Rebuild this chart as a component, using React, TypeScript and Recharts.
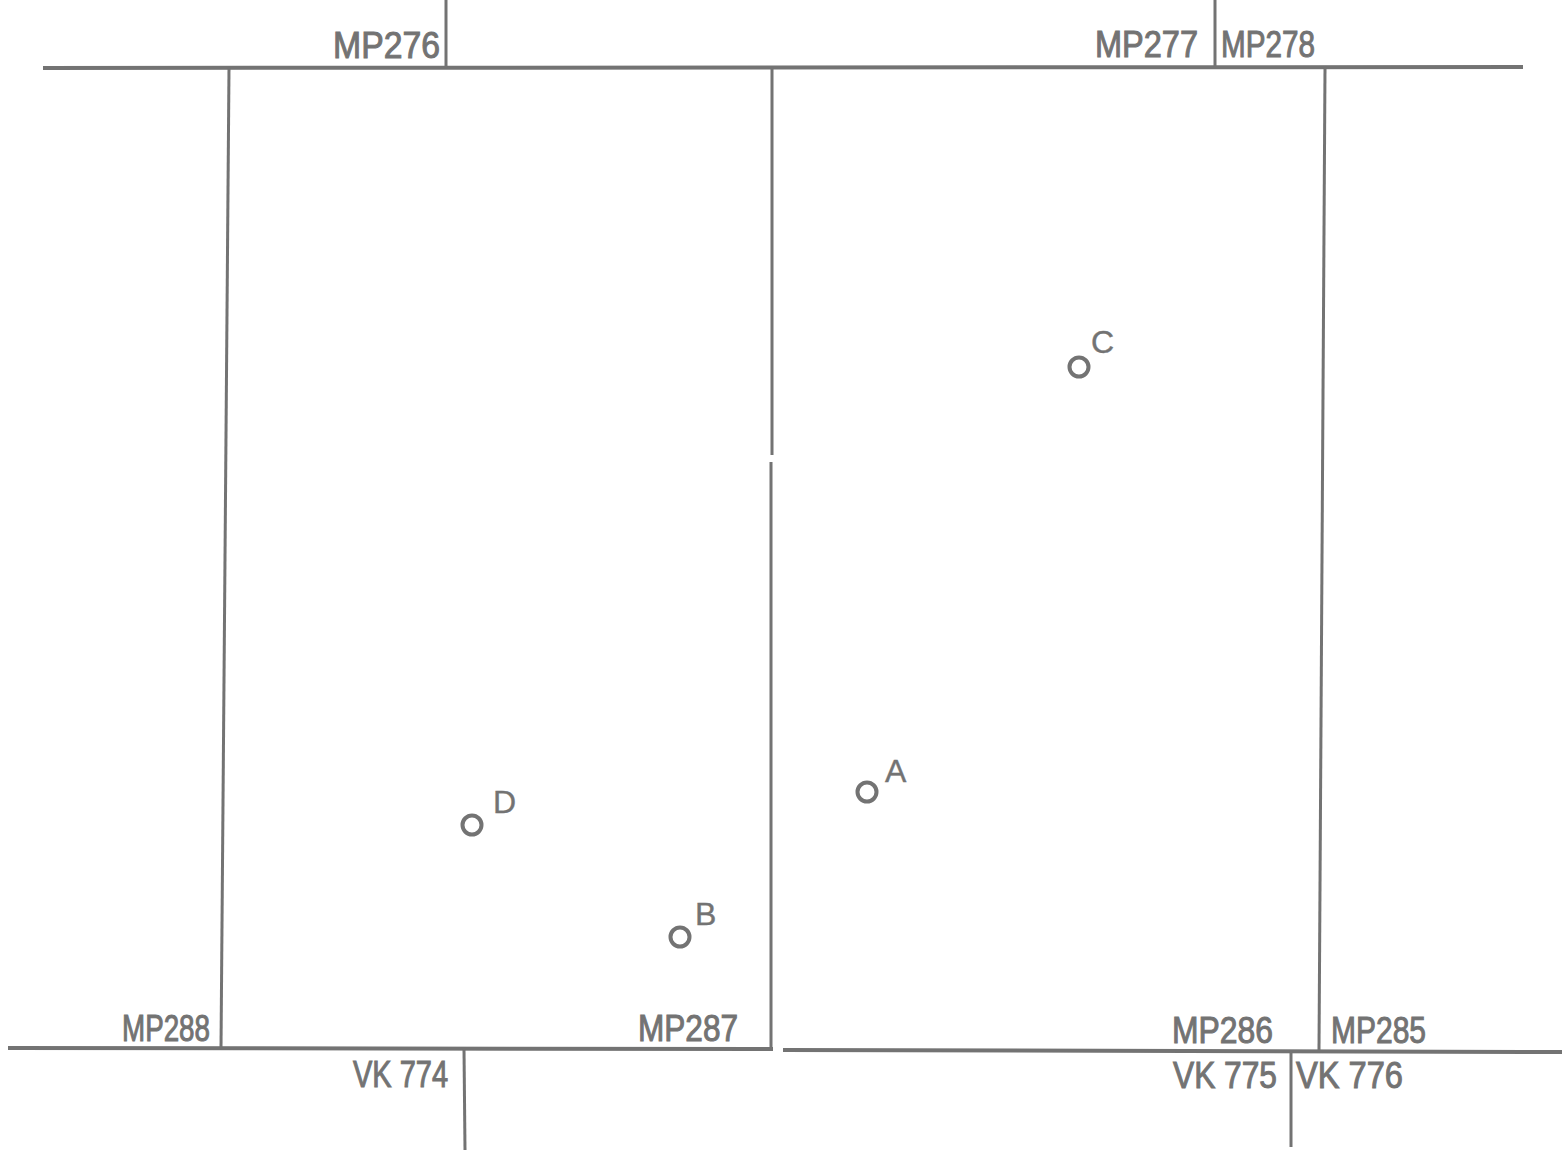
import React from "react";
import { ScatterChart, Scatter, XAxis, YAxis, ReferenceLine } from "recharts";

// Map coordinates (x to the right, y downward), in sheet units
const roadSegments = [
  { id: "top", from: [43, 68], to: [1523, 67] },
  { id: "bottomLeft", from: [8, 1048], to: [773, 1049] },
  { id: "bottomRight", from: [783, 1050], to: [1562, 1052] },
  { id: "v1", from: [229, 68], to: [221, 1048] },
  { id: "v2a", from: [772, 68], to: [772, 455] },
  { id: "v2b", from: [771, 462], to: [771, 1049] },
  { id: "v3", from: [1325, 68], to: [1319, 1050] },
  { id: "t276", from: [446, 0], to: [446, 68] },
  { id: "t278", from: [1215, 0], to: [1215, 67] },
  { id: "b774", from: [464, 1049], to: [465, 1150] },
  { id: "b775", from: [1291, 1051], to: [1291, 1147] },
];

const gridLabels = [
  { text: "MP276", x: 333, y: 58 },
  { text: "MP277", x: 1095, y: 57 },
  { text: "MP278", x: 1221, y: 57 },
  { text: "MP288", x: 122, y: 1041 },
  { text: "MP287", x: 638, y: 1041 },
  { text: "MP286", x: 1172, y: 1043 },
  { text: "MP285", x: 1331, y: 1043 },
  { text: "VK 774", x: 353, y: 1087 },
  { text: "VK 775", x: 1173, y: 1088 },
  { text: "VK 776", x: 1296, y: 1088 },
];

const sites = [
  { name: "A", x: 867, y: 792 },
  { name: "B", x: 680, y: 937 },
  { name: "C", x: 1079, y: 367 },
  { name: "D", x: 472, y: 825 },
];

// styling: rendered text widths and letter nudges
const labelWidth: Record<string, number> = {
  MP276: 107, MP277: 103, MP278: 94, MP288: 88, MP287: 100,
  MP286: 101, MP285: 95, "VK 774": 95, "VK 775": 104, "VK 776": 107,
};
const letterNudge: Record<string, [number, number]> = {
  A: [18, -10], B: [15, -12], C: [12, -14], D: [21, -12],
};

const INK = "#737373";
const FONT = "'Liberation Sans', Arial, sans-serif";

const SiteShape = (props: any) => {
  const { cx, cy, payload } = props;
  const [dx, dy] = letterNudge[payload.name] || [18, -10];
  return (
    <g>
      <circle cx={cx} cy={cy} r={9.5} fill="none" stroke={INK} strokeWidth={4} />
      <text x={cx + dx} y={cy + dy} fill={INK} stroke={INK} strokeWidth={0.4} fontSize={32} fontFamily={FONT}>
        {payload.name}
      </text>
    </g>
  );
};

const LabelShape = (props: any) => {
  const { cx, cy, payload } = props;
  return (
    <text
      x={cx}
      y={cy}
      fill={INK}
      stroke={INK}
      strokeWidth={1}
      fontSize={36}
      fontFamily={FONT}
      textLength={labelWidth[payload.text]}
      lengthAdjust="spacingAndGlyphs"
    >
      {payload.text}
    </text>
  );
};

export default function App() {
  return (
    <div style={{ position: "absolute", left: 0, top: 0, width: 1568, height: 1154, background: "#fff" }}>
      <ScatterChart width={1568} height={1154} margin={{ top: 0, right: 0, bottom: 0, left: 0 }}>
        <XAxis type="number" dataKey="x" domain={[0, 1568]} hide allowDataOverflow />
        <YAxis type="number" dataKey="y" domain={[0, 1154]} reversed hide allowDataOverflow />
        {roadSegments.map((s) => (
          <ReferenceLine
            key={s.id}
            segment={[
              { x: s.from[0], y: s.from[1] },
              { x: s.to[0], y: s.to[1] },
            ]}
            stroke={INK}
            strokeWidth={s.id === "top" || s.id.startsWith("bottom") ? 4 : 3}
            ifOverflow="visible"
          />
        ))}
        <Scatter data={gridLabels} shape={<LabelShape />} isAnimationActive={false} />
        <Scatter data={sites} shape={<SiteShape />} isAnimationActive={false} />
      </ScatterChart>
    </div>
  );
}
